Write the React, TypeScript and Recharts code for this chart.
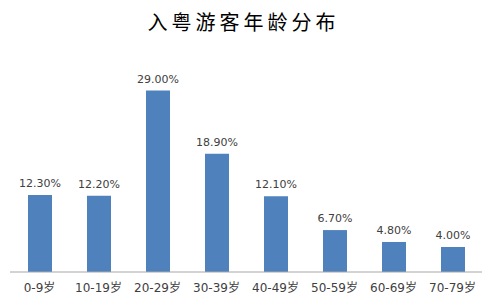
import React from 'react';
import { BarChart, Bar, XAxis, YAxis, LabelList } from 'recharts';

const categories = ['0-9岁', '10-19岁', '20-29岁', '30-39岁', '40-49岁', '50-59岁', '60-69岁', '70-79岁'];
const shares = [12.3, 12.2, 29.0, 18.9, 12.1, 6.7, 4.8, 4.0];

const data = categories.map((age, i) => ({ age, share: shares[i] }));

const labelFont = '"DejaVu Sans", "Noto Sans CJK SC", sans-serif';

export default function App() {
  return (
    <div style={{ position: 'absolute', left: 0, top: 0, width: 487, height: 304, background: '#fff' }}>
      <div
        style={{
          position: 'absolute',
          top: 8,
          left: 0,
          width: 487,
          textAlign: 'center',
          fontFamily: '"Noto Sans CJK SC", sans-serif',
          fontSize: 20,
          letterSpacing: 4,
          color: '#000',
          lineHeight: '28px',
        }}
      >
        入粤游客年龄分布
      </div>
      <BarChart width={487} height={304} data={data} margin={{ top: 53, right: 5, bottom: 2, left: 10 }} barCategoryGap="30%">
        <XAxis
          dataKey="age"
          tickLine={false}
          axisLine={{ stroke: '#a6a6a6' }}
          tick={{ fontSize: 12, fill: '#404040', fontFamily: labelFont }}
          tickMargin={5}
          height={30}
          interval={0}
        />
        <YAxis hide domain={[0, 35]} />
        <Bar dataKey="share" fill="#4f81bd" barSize={24} isAnimationActive={false}>
          <LabelList
            dataKey="share"
            position="top"
            offset={8}
            formatter={(v: any) => `${Number(v).toFixed(2)}%`}
            style={{ fontSize: 11, fill: '#404040', fontFamily: labelFont }}
          />
        </Bar>
      </BarChart>
    </div>
  );
}
